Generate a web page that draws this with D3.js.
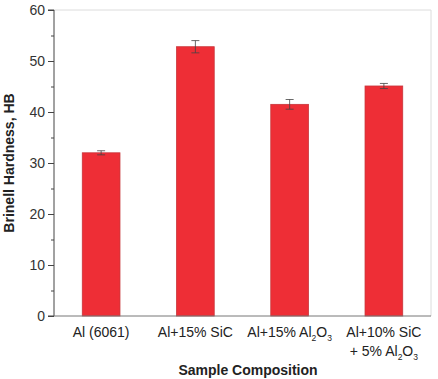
<!DOCTYPE html>
<html><head><meta charset="utf-8">
<script src="https://cdn.jsdelivr.net/npm/d3@7"></script>
<style>body{margin:0;background:#fff}text{font-family:"Liberation Sans",Arial,sans-serif}</style>
</head><body><svg id="c" width="438" height="379"></svg>
<script>
const categories = ["Al (6061)", "Al+15% SiC", "Al+15% Al2O3", "Al+10% SiC + 5% Al2O3"];
const values = [32.0, 52.8, 41.5, 45.1];
const errors = [0.4, 1.2, 0.95, 0.5];
const yTicks = [0, 10, 20, 30, 40, 50, 60];
const yMinorTicks = [5, 15, 25, 35, 45, 55];
// label lines: array of segments [text, isSub]
const labelLines = [
  [[["Al (6061)", false]]],
  [[["Al+15% SiC", false]]],
  [[["Al+15% Al", false], ["2", true], ["O", false], ["3", true]]],
  [[["Al+10% SiC", false]], [["+ 5% Al", false], ["2", true], ["O", false], ["3", true]]]
];

const svg = d3.select("#c");
const L = 54, R = 431, T = 10, B = 316;
const x = d3.scaleBand().domain(categories).range([L, R]).paddingInner(0.6).paddingOuter(0.3);
const y = d3.scaleLinear().domain([0, 60]).range([B, T]);

// frame top/right
svg.append("line").attr("x1", L).attr("x2", R).attr("y1", T).attr("y2", T).attr("stroke", "#dcdcdc").attr("stroke-width", 1);
svg.append("line").attr("x1", R).attr("x2", R).attr("y1", T).attr("y2", B).attr("stroke", "#dcdcdc").attr("stroke-width", 1);

// bars
svg.selectAll("rect.bar").data(values).enter().append("rect")
  .attr("x", (d, i) => x(categories[i]))
  .attr("y", d => y(d))
  .attr("width", x.bandwidth())
  .attr("height", d => y(0) - y(d))
  .attr("fill", "#ee2e36").attr("stroke", "#c8353a").attr("stroke-width", 0.8);

// error bars
const eg = svg.append("g").attr("stroke", "#444").attr("stroke-width", 0.8);
values.forEach((v, i) => {
  const cx = x(categories[i]) + x.bandwidth() / 2;
  eg.append("line").attr("x1", cx).attr("x2", cx).attr("y1", y(v + errors[i])).attr("y2", y(v - errors[i]));
  eg.append("line").attr("x1", cx - 4).attr("x2", cx + 4).attr("y1", y(v + errors[i])).attr("y2", y(v + errors[i]));
  eg.append("line").attr("x1", cx - 4).attr("x2", cx + 4).attr("y1", y(v - errors[i])).attr("y2", y(v - errors[i]));
});

// y axis
const yAxis = svg.append("g").attr("transform", `translate(${L},0)`)
  .call(d3.axisLeft(y).tickValues(yTicks).tickSize(6).tickPadding(3).tickFormat(d3.format("d")));
yAxis.select(".domain").attr("stroke", "#444").attr("d", `M-6,${B}H0V${T}H-6`);
yAxis.selectAll(".tick line").attr("stroke", "#444");
yAxis.selectAll(".tick text").attr("fill", "#333").attr("font-size", 14);
const yMinor = svg.append("g").attr("transform", `translate(${L},0)`)
  .call(d3.axisLeft(y).tickValues(yMinorTicks).tickSize(3).tickFormat(""));
yMinor.select(".domain").remove();
yMinor.selectAll(".tick line").attr("stroke", "#444");

// x axis
svg.append("line").attr("x1", L).attr("x2", R).attr("y1", B).attr("y2", B).attr("stroke", "#777").attr("stroke-width", 1);

// x labels
labelLines.forEach((lines, i) => {
  const cx = x(categories[i]) + x.bandwidth() / 2;
  lines.forEach((segs, j) => {
    const t = svg.append("text").attr("x", cx).attr("y", 337 + j * 19)
      .attr("text-anchor", "middle").attr("font-size", 14).attr("fill", "#222");
    segs.forEach(([s, sub]) => {
      const ts = t.append("tspan").text(s);
      if (sub) ts.attr("font-size", 8.5).attr("dy", 4);
      else if (t.selectAll("tspan").size() > 1) ts.attr("dy", -4);
    });
  });
});

// titles
svg.append("text").attr("x", 248).attr("y", 375).attr("text-anchor", "middle")
  .attr("font-size", 14).attr("font-weight", "bold").attr("fill", "#222").text("Sample Composition");
svg.append("text").attr("transform", `translate(14,${(T + B) / 2}) rotate(-90)`).attr("text-anchor", "middle")
  .attr("font-size", 14).attr("font-weight", "bold").attr("fill", "#222").text("Brinell Hardness, HB");
</script></body></html>
